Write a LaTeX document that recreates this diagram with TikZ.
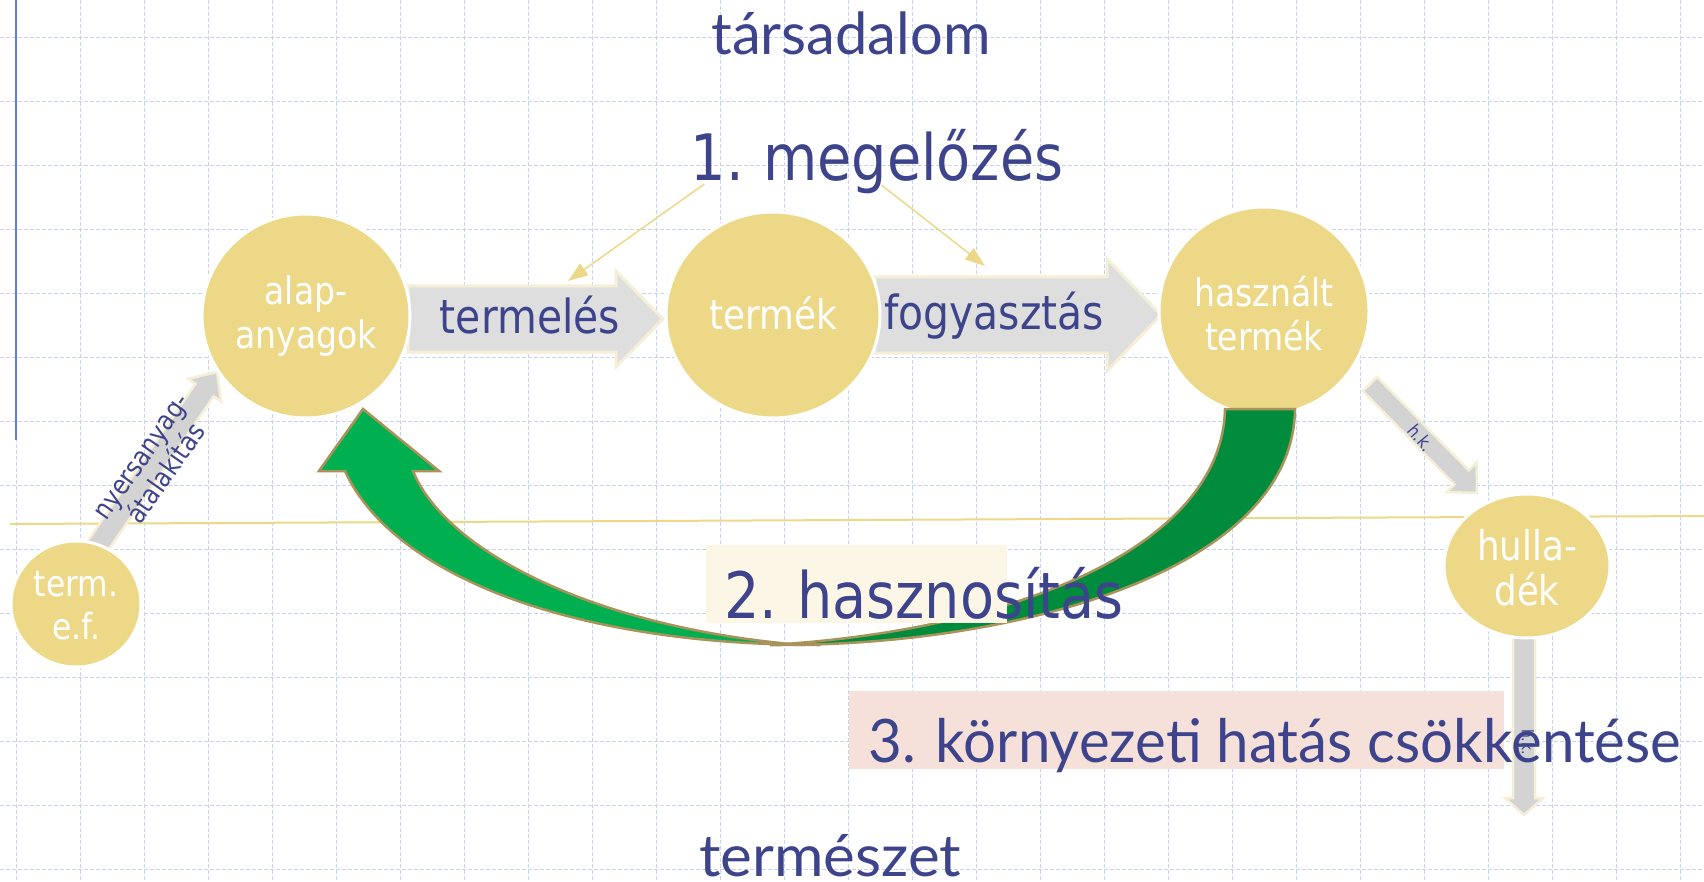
\documentclass[tikz,border=0pt]{standalone}
\usepackage{fontspec}
\usepackage{graphicx}
\usetikzlibrary{calc,shapes.geometric,arrows.meta}
\newfontfamily\tah[FakeStretch=0.87]{DejaVu Sans}
\newfontfamily\gill{Lato}
\definecolor{txtblue}{RGB}{62,68,140}
\definecolor{circfill}{RGB}{236,216,134}
\definecolor{gridc}{RGB}{200,210,248}
\definecolor{lgreen}{RGB}{0,176,80}
\definecolor{dgreen}{RGB}{0,140,60}
\definecolor{olive}{RGB}{168,147,90}
\definecolor{arrgray}{RGB}{222,222,222}
\definecolor{arrgrayb}{RGB}{211,211,211}
\definecolor{cream}{RGB}{246,239,215}
\definecolor{boxcream}{RGB}{252,246,230}
\definecolor{boxpink}{RGB}{246,225,218}
\definecolor{vline}{RGB}{100,120,230}
\newcommand\fitw[2]{\resizebox{#1}{\height}{#2}}
% style, start, tip, body half, head half, head length
\newcommand\blockarr[6]{%
  \coordinate (ba-hb) at ($(#3)!#6!(#2)$);
  \path[#1] ($(#2)!#4!90:(#3)$) -- ($(ba-hb)!#4!90:(#3)$) -- ($(ba-hb)!#5!90:(#3)$)
    -- (#3) -- ($(ba-hb)!#5!-90:(#3)$) -- ($(ba-hb)!#4!-90:(#3)$) -- ($(#2)!#4!-90:(#3)$) -- cycle;}
\begin{document}
\begin{tikzpicture}[x=1pt,y=-1pt,
  circ/.style={ellipse, fill=circfill, draw=white, line width=3pt, inner sep=0pt},
  ctext/.style={text=white, align=center, inner sep=0pt, font=\tah\fontsize{38}{44}\selectfont},
  lab/.style={text=txtblue, inner sep=0pt, anchor=base},
  grayarr/.style={fill=arrgray, draw=cream, line width=3pt, line join=miter},
  grayarrb/.style={fill=arrgrayb, draw=cream, line width=2.5pt, line join=miter},
  pointer/.style={draw=circfill, line width=1.5pt, -{Triangle[length=20pt,width=14pt]}},
  gridline/.style={draw=gridc, line width=0.8pt, dash pattern=on 4pt off 2pt},
  greenarr/.style={draw=olive, line width=2.5pt, line join=miter}
]
\useasboundingbox (0,0) rectangle (1704,882);
\fill[white] (0,0) rectangle (1704,882);
% grid
\foreach \k in {0,...,26} \draw[gridline] ({16+64*\k},0) -- ({16+64*\k},882);
\foreach \k in {0,...,13} \draw[gridline] (0,{37+64*\k}) -- (1704,{37+64*\k});
% guide lines
\draw[vline, line width=2pt] (16,0) -- (16,440);
\draw[circfill, line width=2pt] (10,524) -- (1704,516);
% text labels (positions)
\node[lab, font=\tah\fontsize{64}{70}\selectfont] (prev) at (877,181) {1.\hspace{-4pt} megelőzés};
\coordinate (p1) at (568,281);
\coordinate (p2) at (985,266);
\draw[pointer] ($(prev.base west)+(14,3)$) -- (p1);
\draw[pointer] ($(prev.base west)+(191,4)$) -- (p2);
% gray block arrows
\coordinate (a1s) at (408,319); \coordinate (a1t) at (663,319);
\blockarr{grayarr}{a1s}{a1t}{33pt}{48pt}{47pt}
\coordinate (a2s) at (875,315); \coordinate (a2t) at (1161,315);
\blockarr{grayarr}{a2s}{a2t}{38pt}{56pt}{54pt}
\coordinate (a3s) at (95,550); \coordinate (a3t) at (217,372);
\blockarr{grayarrb}{a3s}{a3t}{11pt}{20pt}{22pt}
\coordinate (a4s) at (1370,384); \coordinate (a4t) at (1477,493);
\blockarr{grayarrb}{a4s}{a4t}{10pt}{21pt}{22pt}
\coordinate (a5s) at (1524,630); \coordinate (a5t) at (1524,815);
\blockarr{grayarrb}{a5s}{a5t}{11pt}{19pt}{17pt}
% circles
\node[circ, minimum width=208pt, minimum height=204pt] (A) at (306,316) {};
\node[circ, minimum width=214pt, minimum height=206pt] (T) at (773,315) {};
\node[circ, minimum width=210pt, minimum height=208pt] (H) at (1264,311) {};
\node[circ, minimum width=166pt, minimum height=144pt] (W) at (1527,566) {};
\node[circ, minimum width=130pt, minimum height=126pt] (E) at (76,604) {};
% green curved arrow
\path[greenarr, fill=dgreen] (1225,409) -- (1295,409) .. controls (1293,570) and (1020,645) .. (780,645)
  -- (770,645) .. controls (1020,630) and (1222,545) .. (1225,409) -- cycle;
\path[greenarr, fill=lgreen] (345,471) -- (319,471) -- (363,409) -- (439,471) -- (413,471)
  .. controls (445,550) and (590,625) .. (790,644)
  -- (820,645) .. controls (560,645) and (390,570) .. (345,471) -- cycle;
% boxes
\node[fill=boxcream, minimum width=301pt, minimum height=78pt, inner sep=0pt, anchor=north west] (ubox) at (706,545) {};
\node[fill=boxpink, minimum width=655pt, minimum height=78pt, inner sep=0pt, anchor=north west] (ebox) at (849,691) {};
% circle texts
\node[ctext] (Alab) at (A) {alap-\\anyagok};
\node[ctext, font=\tah\fontsize{41}{44}\selectfont] (Tlab) at (773,313) {termék};
\node[ctext] (Hlab) at (1264,314) {használt\\termék};
\node[ctext, font=\tah\fontsize{41}{45}\selectfont] (Wlab) at (1527,568) {hulla-\\dék};
\node[ctext, font=\tah\fontsize{36}{43}\selectfont] (Elab) at (76,606) {term.\\e.f.};
% arrow labels
\node[lab, font=\tah\fontsize{47}{50}\selectfont] (prod) at (530,334) {termelés};
\node[lab, font=\tah\fontsize{47}{50}\selectfont] (cons) at (994,330) {fogyasztás};
\node[text=txtblue, font=\tah\fontsize{27}{30}\selectfont, align=center, rotate=55, inner sep=0pt] (raw) at (155,466) {nyersanyag-\\átalakítás};
\node[text=txtblue, font=\tah\fontsize{18}{20}\selectfont, rotate=-50, inner sep=0pt] (hk1) at (1421,438) {h.k.};
\node[text=txtblue, font=\tah\fontsize{16}{18}\selectfont, rotate=-90, inner sep=0pt] (hk2) at (1528,742) {h.k.};
% big texts
\node[lab, font=\tah\fontsize{64}{70}\selectfont] (util) at (924,618) {2.\hspace{-4pt} hasznosítás};
\node[lab, font=\gill\fontsize{60}{64}\selectfont] (env) at (1275,762) {\fitw{813pt}{3. környezeti hatás csökkentése}};
\node[lab, font=\gill\fontsize{58}{60}\selectfont] (soc) at (851,55) {\fitw{279pt}{társadalom}};
\node[lab, font=\gill\fontsize{58}{60}\selectfont] (nat) at (830,876) {\fitw{262pt}{természet}};
\end{tikzpicture}
\end{document}
